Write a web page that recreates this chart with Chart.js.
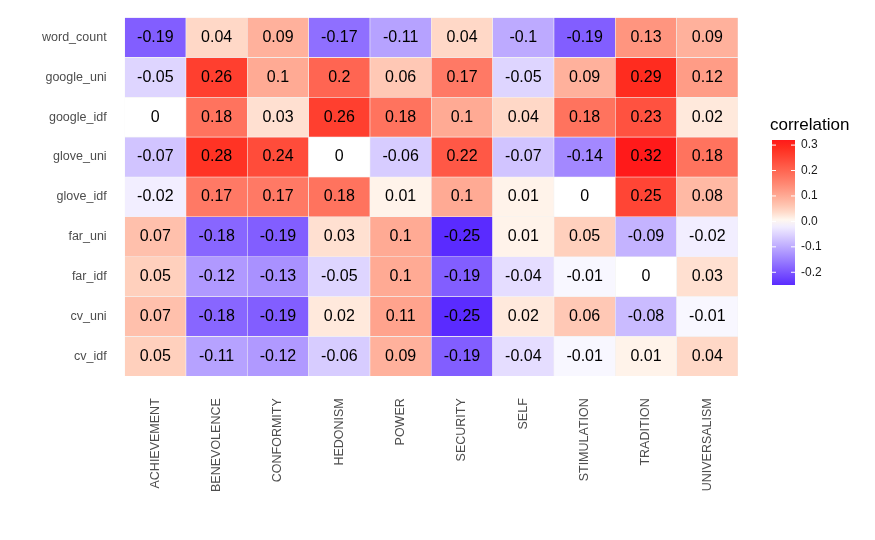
<!DOCTYPE html>
<html>
<head>
<meta charset="utf-8">
<script src="https://cdn.jsdelivr.net/npm/chart.js@4"></script>
<style>
body{margin:0;background:#fff}
#wrap{width:875px;height:540px}
</style>
</head>
<body>
<div id="wrap"><canvas id="heat"></canvas></div>
<script>
const columns = ["ACHIEVEMENT","BENEVOLENCE","CONFORMITY","HEDONISM","POWER","SECURITY","SELF","STIMULATION","TRADITION","UNIVERSALISM"]
const rows = ["word_count","google_uni","google_idf","glove_uni","glove_idf","far_uni","far_idf","cv_uni","cv_idf"]

const word_count = [-0.19,0.04,0.09,-0.17,-0.11,0.04,-0.1,-0.19,0.13,0.09]
const google_uni = [-0.05,0.26,0.1,0.2,0.06,0.17,-0.05,0.09,0.29,0.12]
const google_idf = [0,0.18,0.03,0.26,0.18,0.1,0.04,0.18,0.23,0.02]
const glove_uni = [-0.07,0.28,0.24,0,-0.06,0.22,-0.07,-0.14,0.32,0.18]
const glove_idf = [-0.02,0.17,0.17,0.18,0.01,0.1,0.01,0,0.25,0.08]
const far_uni = [0.07,-0.18,-0.19,0.03,0.1,-0.25,0.01,0.05,-0.09,-0.02]
const far_idf = [0.05,-0.12,-0.13,-0.05,0.1,-0.19,-0.04,-0.01,0,0.03]
const cv_uni = [0.07,-0.18,-0.19,0.02,0.11,-0.25,0.02,0.06,-0.08,-0.01]
const cv_idf = [0.05,-0.11,-0.12,-0.06,0.09,-0.19,-0.04,-0.01,0.01,0.04]

const values = [word_count,google_uni,google_idf,glove_uni,glove_idf,far_uni,far_idf,cv_uni,cv_idf]
const legendTicks = [0.3,0.2,0.1,0.0,-0.1,-0.2]
const vMin = -0.25, vMax = 0.32

// ----------------------------
// colour scale (white mid, blue low, red high)
// ----------------------------
const lowC = [90,43,255], highC = [255,26,26]
function cellColor(v){
let t, c
if(v >= 0){ t = v / vMax; c = highC }
else { t = v / vMin; c = lowC }
// slightly bend green/blue channels so reds go salmon like the Lab blend
const tg = v >= 0 ? Math.pow(t,0.85) : t
const tb = v >= 0 ? Math.pow(t,0.7) : t
const r = Math.round(255 + (c[0]-255)*t)
const g = Math.round(255 + (c[1]-255)*tg)
const b = Math.round(255 + (c[2]-255)*(v >= 0 ? Math.min(1,tb*1.05) : t))
return "rgb("+r+","+g+","+b+")"
}

// row i from top -> y range [n-1-i, n-i]
const datasets = rows.map((name,i)=>{
const y0 = rows.length-1-i
return {
label:name,
data: values[i].map(()=>[y0,y0+1]),
backgroundColor: values[i].map(cellColor),
borderColor:"#f2f2f2",
borderWidth:0.6,
borderSkipped:false,
barPercentage:1,
categoryPercentage:1,
grouped:false
}
})

const labelPlugin = {
id:"cellLabels",
afterDatasetsDraw(chart){
const c = chart.ctx
c.save()
c.font = "16px 'Liberation Sans', Arial, sans-serif"
c.fillStyle = "#000"
c.textAlign = "center"
c.textBaseline = "middle"
chart.data.datasets.forEach((ds,i)=>{
chart.getDatasetMeta(i).data.forEach((bar,j)=>{
const p = bar.getProps(["x","y","base"],true)
c.fillText(String(values[i][j]), p.x, (p.y+p.base)/2)
})
})
c.restore()
}
}

const legendPlugin = {
id:"colourbar",
afterDraw(chart){
const c = chart.ctx
const x = 772, w = 23, top = 140, bot = 285
c.save()
c.font = "17px 'Liberation Sans', Arial, sans-serif"
c.fillStyle = "#000"
c.textBaseline = "alphabetic"
c.fillText("correlation", 770, 130)
const grad = c.createLinearGradient(0,top,0,bot)
const steps = 20
for(let k=0;k<=steps;k++){
const v = vMax - (vMax-vMin)*k/steps
grad.addColorStop(k/steps, cellColor(v))
}
c.fillStyle = grad
c.fillRect(x,top,w,bot-top)
c.font = "12px 'Liberation Sans', Arial, sans-serif"
c.fillStyle = "#1a1a1a"
c.textBaseline = "middle"
c.strokeStyle = "#fff"
legendTicks.forEach(v=>{
const y = top + (vMax-v)/(vMax-vMin)*(bot-top)
c.beginPath()
c.moveTo(x,y); c.lineTo(x+4,y)
c.moveTo(x+w-4,y); c.lineTo(x+w,y)
c.stroke()
c.fillText(v.toFixed(1), x+w+6, y)
})
c.restore()
}
}

new Chart(document.getElementById("heat"),{
type:"bar",
data:{ labels:columns, datasets:datasets },
options:{
responsive:true,
maintainAspectRatio:false,
animation:false,
layout:{ padding:{ top:3, right:137, left:32, bottom:34 } },
plugins:{ legend:{display:false}, tooltip:{enabled:false} },
scales:{
x:{
grid:{display:false},
border:{display:false},
ticks:{ color:"#4d4d4d", font:{size:12.5}, minRotation:90, maxRotation:90, padding:14 }
},
y:{
min:0, max:rows.length,
grid:{display:false},
border:{display:false},
afterBuildTicks(scale){
scale.ticks = rows.map((r,i)=>({value:i+0.5}))
},
ticks:{
color:"#4d4d4d", font:{size:12.5}, padding:10,
callback(v){ return rows[rows.length-1-Math.floor(v)] }
}
}
}
},
plugins:[labelPlugin, legendPlugin]
})
</script>
</body>
</html>
